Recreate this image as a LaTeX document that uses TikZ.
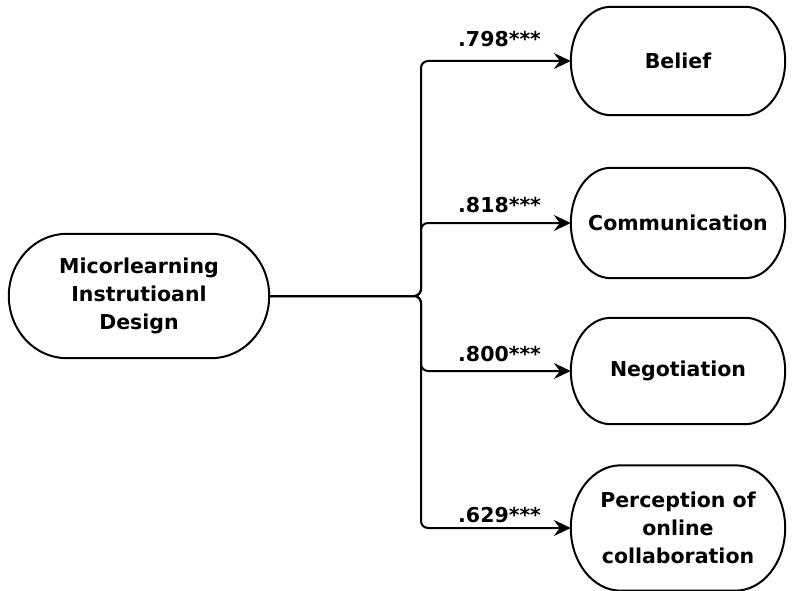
\documentclass[tikz,border=0pt]{standalone}
\usepackage{fontspec}
\setmainfont{DejaVu Sans}
\usetikzlibrary{arrows.meta,calc}
\newcommand\pillshape[2]{\draw[outl] let \p1=(#1.north west), \p2=(#1.south east) in
  (\x1+#2pt,\y1) -- (\x2-#2pt,\y1)
  arc[start angle=90, end angle=-90, x radius=#2pt, y radius={(\y1-\y2)/2}]
  -- (\x1+#2pt,\y2)
  arc[start angle=270, end angle=90, x radius=#2pt, y radius={(\y1-\y2)/2}] -- cycle;}
\begin{document}
\begin{tikzpicture}[x=1pt,y=-1pt,
  box/.style={align=center, font=\bfseries\fontsize{20.5}{28}\selectfont, inner sep=0pt},
  outl/.style={draw, line width=2pt},
  conn/.style={line width=2pt, rounded corners=7pt, -{Stealth[length=17pt,width=16pt,inset=6pt]}},
  lbl/.style={font=\bfseries\fontsize{20.5}{24}\selectfont, anchor=base west, inner sep=0pt}]
\useasboundingbox (0,0) rectangle (792,591);
\node[box, minimum width=260pt, minimum height=124pt] (src) at (139,296) {Micorlearning\\Instrutioanl\\Design};
\node[box, minimum width=214pt, minimum height=108pt] (b) at (678,61) {Belief};
\node[box, minimum width=214pt, minimum height=110pt] (c) at (678,223) {Communication};
\node[box, minimum width=214pt, minimum height=106pt] (n) at (678,371) {Negotiation};
\node[box, minimum width=214pt, minimum height=125pt] (p) at (678,528) {Perception of\\online\\collaboration};
\pillshape{src}{58}
\pillshape{b}{40}
\pillshape{c}{40}
\pillshape{n}{40}
\pillshape{p}{50}
\coordinate (j) at (421,296);
\draw[conn] (src.east) -- (j) |- (b.west);
\draw[conn] (src.east) -- (j) |- (c.west);
\draw[conn] (src.east) -- (j) |- (n.west);
\draw[conn] (src.east) -- (j) |- (p.west);
\node[lbl] (lb) at (458,47) {.798***};
\node[lbl] (lc) at (458,212) {.818***};
\node[lbl] (ln) at (458,361) {.800***};
\node[lbl] (lp) at (458,522) {.629***};
\end{tikzpicture}
\end{document}
